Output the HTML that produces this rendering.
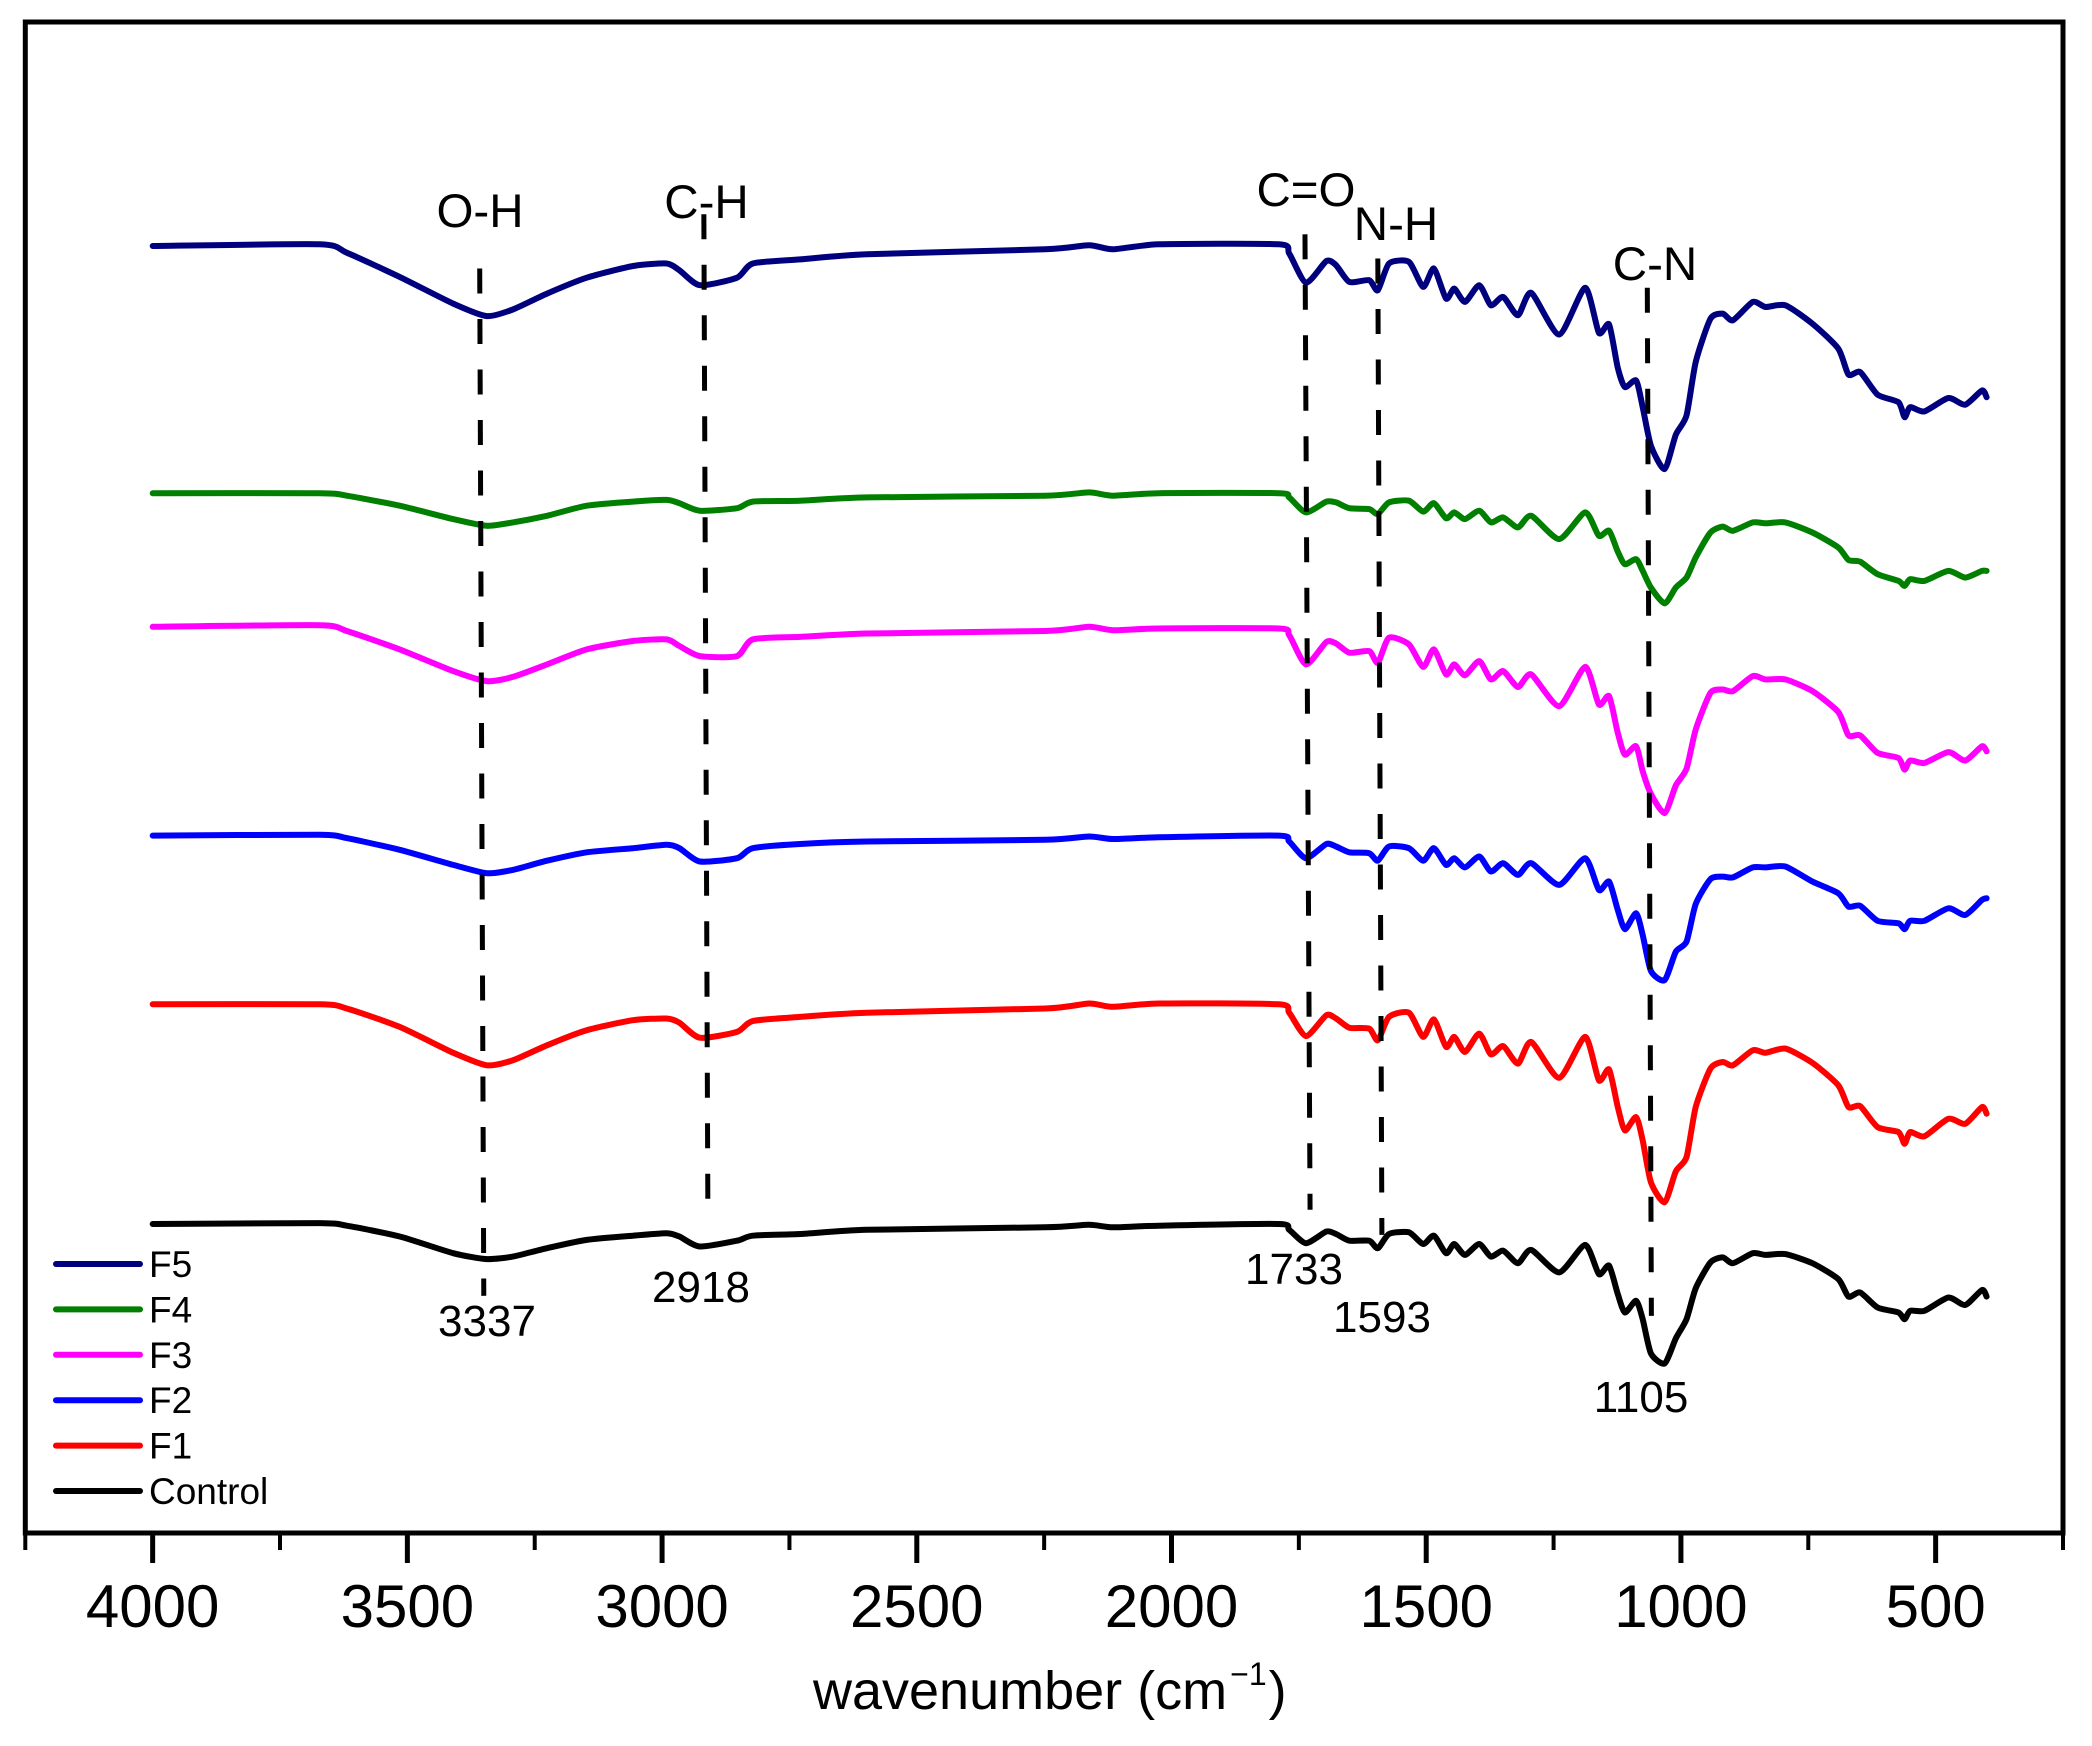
<!DOCTYPE html>
<html lang="en">
<head>
<meta charset="utf-8">
<title>FTIR spectra</title>
<style>
html,body{margin:0;padding:0;background:#fff;}
svg{display:block;}
text{font-family:"Liberation Sans",Arial,sans-serif;fill:#000;}
</style>
</head>
<body>
<svg id="chart" xmlns="http://www.w3.org/2000/svg" width="2092" height="1746" viewBox="0 0 2092 1746">
  <rect x="0" y="0" width="2092" height="1746" fill="#fff"/>
  <g id="series-layer"></g>
  <g id="guide-layer"></g>
  <rect x="25.3" y="22" width="2037.7" height="1511" fill="none" stroke="#000" stroke-width="5"/>
  <g id="tick-layer"></g>
  <g id="legend-layer"></g>
  <g font-size="47.5" text-anchor="middle">
    <text x="480" y="227">O-H</text>
    <text x="706.5" y="218">C-H</text>
    <text x="1306" y="206">C=O</text>
    <text x="1396" y="240">N-H</text>
    <text x="1655" y="280">C-N</text>
  </g>
  <g font-size="44" text-anchor="middle">
    <text x="487" y="1336">3337</text>
    <text x="701" y="1302">2918</text>
    <text x="1294" y="1284">1733</text>
    <text x="1382" y="1332">1593</text>
    <text x="1641" y="1412">1105</text>
  </g>
  <text x="813" y="1709" font-size="54">wavenumber (cm<tspan font-size="32" dy="-24" dx="3">&#8722;1</tspan><tspan dy="24" dx="2">)</tspan></text>
</svg>
<script>
var wavenumbers = [4000,3672,3619,3515,3410,3344,3293,3226,3148,3057,2991,2966,2926,2853,2822,2729,2598,2248,2162,2115,2025,1789,1769,1736,1696,1677,1651,1612,1595,1573,1534,1506,1485,1461,1445,1424,1396,1373,1349,1320,1294,1239,1188,1161,1141,1124,1110,1088,1075,1059,1032,1010,989,971,942,918,898,859,834,795,742,691,671,648,614,573,561,550,522,475,442,409,400];
var seriesF5 = [154.1,154.3,153.3,150.4,147.2,145.7,146.5,148.4,150.3,151.7,152.0,151.2,149.4,150.3,152.0,152.5,153.1,153.7,154.2,153.7,154.3,154.3,153.2,149.7,152.3,151.8,149.8,150.0,148.8,152.0,152.2,149.2,151.4,147.8,149.0,147.4,149.4,147.0,148.0,145.8,148.5,143.5,149.1,143.7,144.7,139.5,137.2,138.0,134.8,130.2,127.4,131.5,133.8,140.2,145.4,146.0,145.2,147.4,146.8,147.0,144.8,141.8,138.7,139.0,136.3,135.4,133.6,134.8,134.3,135.9,135.1,136.8,136.0];
var seriesF4 = [124.5,124.5,124.2,123.0,121.4,120.6,121.0,121.8,123.0,123.5,123.7,123.3,122.4,122.7,123.5,123.6,124.0,124.2,124.6,124.2,124.5,124.5,124.0,122.2,123.5,123.4,122.7,122.6,122.0,123.4,123.6,122.3,123.3,121.5,122.2,121.4,122.4,121.0,121.6,120.4,121.8,119.0,122.2,119.4,120.0,117.5,116.0,116.6,115.2,113.2,111.3,113.2,114.4,116.8,119.8,120.5,120.0,121.0,120.9,121.0,119.8,118.0,116.5,116.3,114.8,114.0,113.4,114.2,114.0,115.2,114.4,115.2,115.2];
var seriesF3 = [108.5,108.7,108.0,105.8,103.2,102.0,102.5,104.0,105.8,106.8,107.0,106.2,105.0,105.0,107.0,107.3,107.7,108.0,108.5,108.1,108.3,108.3,107.5,104.0,106.7,106.5,105.4,105.6,104.2,107.2,106.4,103.7,105.8,102.8,104.0,102.7,104.4,102.2,103.2,101.3,102.8,99.0,103.7,99.2,100.2,95.8,93.2,94.2,91.2,88.5,86.2,89.5,91.5,96.2,100.6,101.0,100.8,102.6,102.2,102.2,100.8,98.3,95.5,95.5,93.4,92.8,91.4,92.5,92.2,93.5,92.5,94.2,93.6];
var seriesF2 = [83.5,83.6,83.2,81.8,80.0,79.0,79.4,80.5,81.5,82.0,82.4,82.0,80.4,80.8,82.0,82.5,82.8,83.0,83.4,83.1,83.3,83.5,82.8,80.8,82.5,82.2,81.5,81.4,80.5,82.2,82.0,80.5,82.0,80.0,80.8,79.7,81.0,79.2,80.2,78.8,80.2,77.6,80.8,77.0,78.0,74.6,72.3,74.2,71.6,67.3,66.2,69.6,70.8,75.3,78.3,78.6,78.5,79.7,79.7,79.8,78.0,76.6,75.0,75.1,73.3,73.0,72.3,73.3,73.3,74.8,74.0,75.8,76.0];
var seriesF1 = [63.3,63.3,62.8,60.6,57.5,56.0,56.6,58.4,60.2,61.4,61.6,61.1,59.3,60.0,61.3,61.8,62.3,62.8,63.4,63.0,63.4,63.3,62.3,59.5,62.0,61.6,60.5,60.4,59.0,61.8,62.3,59.4,61.5,58.2,59.4,57.6,59.8,57.3,58.3,56.2,58.8,54.5,59.4,54.2,55.5,51.0,48.2,49.8,47.0,42.0,39.6,43.3,45.0,51.0,55.6,56.4,56.0,57.8,57.5,58.0,56.3,53.6,51.0,51.1,48.6,48.0,46.6,48.0,47.5,49.6,49.0,51.0,50.2];
var seriesControl = [37.0,37.1,36.8,35.5,33.5,32.8,33.1,34.1,35.1,35.6,35.9,35.5,34.3,35.0,35.6,35.8,36.3,36.6,36.9,36.6,36.8,37.0,36.3,34.7,36.1,35.8,35.0,35.0,34.1,35.8,36.0,34.6,35.6,33.5,34.6,33.3,34.6,33.1,33.8,32.3,33.9,31.2,34.5,31.0,32.0,28.6,26.4,27.8,25.6,21.5,20.3,23.3,25.6,29.3,32.4,33.0,32.3,33.5,33.3,33.4,32.3,30.4,28.3,28.8,27.0,26.4,25.6,26.6,26.6,28.2,27.3,29.1,28.3];
var seriesLabels = ["F5","F4","F3","F2","F1","Control"];
var seriesColors = ["#00007f","#007f00","#ff00ff","#0000ff","#ff0000","#000000"];
var majorTicks = [4000,3500,3000,2500,2000,1500,1000,500];
var minorTicks = [4250,3750,3250,2750,2250,1750,1250,750,250];
var guideNames = ["oh","ch","co","nh","cn"];
var guideTopWave = [3358,2918,1738,1595,1066];
var guideBottomWave = [3350,2910,1728,1587,1058];
var guideTopLevel = [151.4,157.9,155.5,152.6,149.1];
var guideBottomLevel = [28.4,37.0,38.7,35.7,26.0];

var NS = "http://www.w3.org/2000/svg";
var plotLeft = 25.3, plotRight = 2063, plotBottom = 1533, plotTop = 23;
var waveMax = 4250, waveMin = 250, levelMin = 0, levelMax = 180.8;
function xScale(w){ return plotLeft + (waveMax - w) * (plotRight - plotLeft) / (waveMax - waveMin); }
function yScale(t){ return plotBottom - (t - levelMin) * (plotBottom - plotTop) / (levelMax - levelMin); }

function smoothPath(xs, ys){
  var d = "M" + xs[0].toFixed(1) + " " + ys[0].toFixed(1);
  var k = 0.11;
  for (var i = 0; i < xs.length - 1; i++){
    var p = Math.max(i - 1, 0), n = Math.min(i + 2, xs.length - 1);
    var c1x = xs[i] + (xs[i + 1] - xs[p]) * k;
    var c1y = ys[i] + (ys[i + 1] - ys[p]) * k;
    var c2x = xs[i + 1] - (xs[n] - xs[i]) * k;
    var c2y = ys[i + 1] - (ys[n] - ys[i]) * k;
    d += "C" + c1x.toFixed(1) + " " + c1y.toFixed(1) + " " + c2x.toFixed(1) + " " + c2y.toFixed(1) + " " + xs[i + 1].toFixed(1) + " " + ys[i + 1].toFixed(1);
  }
  return d;
}

var allSeries = [seriesF5, seriesF4, seriesF3, seriesF2, seriesF1, seriesControl];
var seriesLayer = document.getElementById("series-layer");
allSeries.forEach(function(values, s){
  var xs = wavenumbers.map(xScale);
  var ys = values.map(yScale);
  var line = document.createElementNS(NS, "path");
  line.setAttribute("d", smoothPath(xs, ys));
  line.setAttribute("fill", "none");
  line.setAttribute("stroke", seriesColors[s]);
  line.setAttribute("stroke-width", "6");
  line.setAttribute("stroke-linejoin", "round");
  line.setAttribute("stroke-linecap", "round");
  
  
  seriesLayer.appendChild(line);
});

var guideLayer = document.getElementById("guide-layer");
guideNames.forEach(function(name, i){
  var g = document.createElementNS(NS, "line");
  g.setAttribute("x1", xScale(guideTopWave[i]));
  g.setAttribute("y1", yScale(guideTopLevel[i]));
  g.setAttribute("x2", xScale(guideBottomWave[i]));
  g.setAttribute("y2", yScale(guideBottomLevel[i]));
  g.setAttribute("stroke", "#000");
  g.setAttribute("stroke-width", "5");
  g.setAttribute("stroke-dasharray", "25 25.5");
  
  
  guideLayer.appendChild(g);
});

var tickLayer = document.getElementById("tick-layer");
majorTicks.forEach(function(w){
  var t = document.createElementNS(NS, "line");
  t.setAttribute("x1", xScale(w));
  t.setAttribute("x2", xScale(w));
  t.setAttribute("y1", plotBottom);
  t.setAttribute("y2", plotBottom + 30);
  t.setAttribute("stroke", "#000");
  t.setAttribute("stroke-width", "5");
  
  
  tickLayer.appendChild(t);
  var label = document.createElementNS(NS, "text");
  label.setAttribute("x", xScale(w));
  label.setAttribute("y", 1627);
  label.setAttribute("font-size", "60");
  label.setAttribute("text-anchor", "middle");
  label.textContent = String(w);
  
  
  tickLayer.appendChild(label);
});
minorTicks.forEach(function(w){
  var t = document.createElementNS(NS, "line");
  t.setAttribute("x1", xScale(w));
  t.setAttribute("x2", xScale(w));
  t.setAttribute("y1", plotBottom);
  t.setAttribute("y2", plotBottom + 17);
  t.setAttribute("stroke", "#000");
  t.setAttribute("stroke-width", "4");
  
  
  tickLayer.appendChild(t);
});

var legendLayer = document.getElementById("legend-layer");
seriesLabels.forEach(function(name, i){
  var y = 1264 + i * 45.4;
  var key = document.createElementNS(NS, "line");
  key.setAttribute("x1", 56);
  key.setAttribute("x2", 140);
  key.setAttribute("y1", y);
  key.setAttribute("y2", y);
  key.setAttribute("stroke", seriesColors[i]);
  key.setAttribute("stroke-width", "6");
  key.setAttribute("stroke-linecap", "round");
  
  
  legendLayer.appendChild(key);
  var txt = document.createElementNS(NS, "text");
  txt.setAttribute("x", 149);
  txt.setAttribute("y", y + 13);
  txt.setAttribute("font-size", "37");
  txt.textContent = name;
  
  
  legendLayer.appendChild(txt);
});
</script>
</body>
</html>
